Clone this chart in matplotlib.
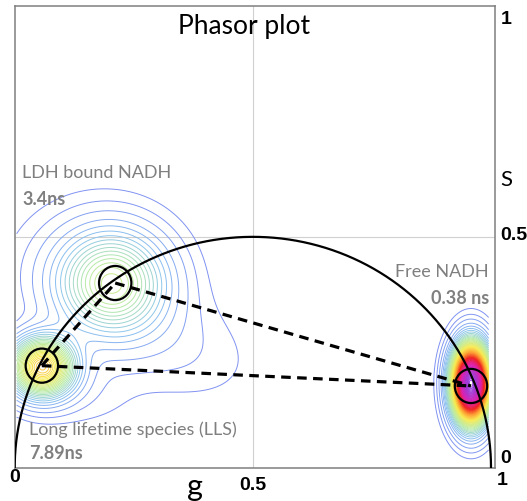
import numpy as np
import matplotlib
matplotlib.use("Agg")
import matplotlib.pyplot as plt
from matplotlib.colors import LinearSegmentedColormap
from matplotlib.patches import Ellipse

# cursor positions on the phasor plot (g, s)
species = ["Long lifetime species (LLS)", "LDH bound NADH", "Free NADH"]
lifetimes = ["7.89ns", "3.4ns", "0.38 ns"]
cursor_g = [0.057, 0.211, 0.958]
cursor_s = [0.221, 0.400, 0.177]

# pixel clusters of the phasor histogram: centre, spread, tilt, weight
cl_g = [0.958, 0.058, 0.205, 0.270, 0.160, 0.120]
cl_s = [0.182, 0.218, 0.400, 0.300, 0.450, 0.170]
cl_sg = [0.024, 0.042, 0.072, 0.140, 0.100, 0.080]
cl_ss = [0.050, 0.040, 0.070, 0.072, 0.085, 0.050]
cl_tilt = [0, 0, 0, -25, 0, -10]
cl_w = [1.0, 0.34, 0.17, 0.016, 0.014, 0.010]

grey = "#7f7f7f"
font = "Lato"

fig = plt.figure(figsize=(5.27, 5.01), dpi=100)
ax = fig.add_axes([0.0279, 0.0665, 0.9114, 0.9215])
ax.set_xlim(0, 1.0084)
ax.set_ylim(0, 1.0)

# histogram density
G, S = np.meshgrid(np.linspace(0.004, 0.995, 500), np.linspace(0, 1, 500))
D = np.zeros_like(G)
for g0, s0, sg, ss, t, w in zip(cl_g, cl_s, cl_sg, cl_ss, cl_tilt, cl_w):
    a = np.radians(t)
    u = (G - g0) * np.cos(a) + (S - s0) * np.sin(a)
    v = -(G - g0) * np.sin(a) + (S - s0) * np.cos(a)
    D += w * np.exp(-0.5 * ((u / sg) ** 2 + (v / ss) ** 2))

cmap = LinearSegmentedColormap.from_list("phasor", [
    (0.0, "#7f8ff2"), (0.06, "#8cc4f0"), (0.14, "#b4eaa8"),
    (0.28, "#f8ec50"), (0.40, "#ffa030"), (0.54, "#f02020"),
    (0.72, "#e020b0"), (1.0, "#9040e0")])
levels = np.concatenate([[0.005, 0.011], np.linspace(0.02, 1.0, 80)])
ax.contour(G, S, D, levels=levels, cmap=cmap, vmin=0, vmax=1, linewidths=0.7)

# grid lines through 0.5
ax.axvline(0.5, color="#d0d0d0", lw=0.8, zorder=1)
ax.axhline(0.5, color="#d0d0d0", lw=0.8, zorder=1)

# universal semicircle
th = np.linspace(0, np.pi, 300)
ax.plot(0.5 + 0.5 * np.cos(th), 0.5 * np.sin(th), color="black", lw=1.6, zorder=3)

# lines joining the cursors
for i, j in [(0, 1), (1, 2), (0, 2)]:
    ax.plot([cursor_g[i], cursor_g[j]], [cursor_s[i], cursor_s[j]],
            color="black", lw=2.3, ls=(0, (3, 2)), zorder=4)

for g, s in zip(cursor_g, cursor_s):
    ax.add_patch(Ellipse((g, s), 0.068, 0.074, fill=False, ec="black", lw=1.6, zorder=5))

for sp in ax.spines.values():
    sp.set_color(grey)
    sp.set_linewidth(1.1)
ax.set_xticks([])
ax.set_yticks([])

ax.text(0.482, 0.955, "Phasor plot", ha="center", va="center", fontsize=19, family=font)

# cursor labels
ax.text(0.016, 0.638, species[1], ha="left", va="center", fontsize=13, color=grey, family=font)
ax.text(0.016, 0.581, lifetimes[1], ha="left", va="center", fontsize=13, color=grey, family=font, weight="bold")
ax.text(0.996, 0.423, species[2], ha="right", va="center", fontsize=13, color=grey, family=font)
ax.text(0.996, 0.367, lifetimes[2], ha="right", va="center", fontsize=13, color=grey, family=font, weight="bold")
ax.text(0.030, 0.082, species[0], ha="left", va="center", fontsize=13, color=grey, family=font)
ax.text(0.030, 0.030, lifetimes[0], ha="left", va="center", fontsize=13, color=grey, family=font, weight="bold")

# axis numbers and names
num = dict(fontsize=14, weight="bold", family="Liberation Sans", clip_on=False)
ax.text(1.02, 0.97, "1", ha="left", va="center", **num)
ax.text(1.02, 0.502, "0.5", ha="left", va="center", **num)
ax.text(1.02, 0.019, "0", ha="left", va="center", **num)
ax.text(0.0, -0.022, "0", ha="center", va="center", **num)
ax.text(0.5, -0.038, "0.5", ha="center", va="center", **num)
ax.text(1.023, -0.027, "1", ha="center", va="center", **num)
ax.text(1.02, 0.623, "S", ha="left", va="center", fontsize=16, family=font, clip_on=False)
ax.text(0.378, -0.041, "g", ha="center", va="center", fontsize=22, family=font, clip_on=False)

fig.savefig("out.png", dpi=100)
